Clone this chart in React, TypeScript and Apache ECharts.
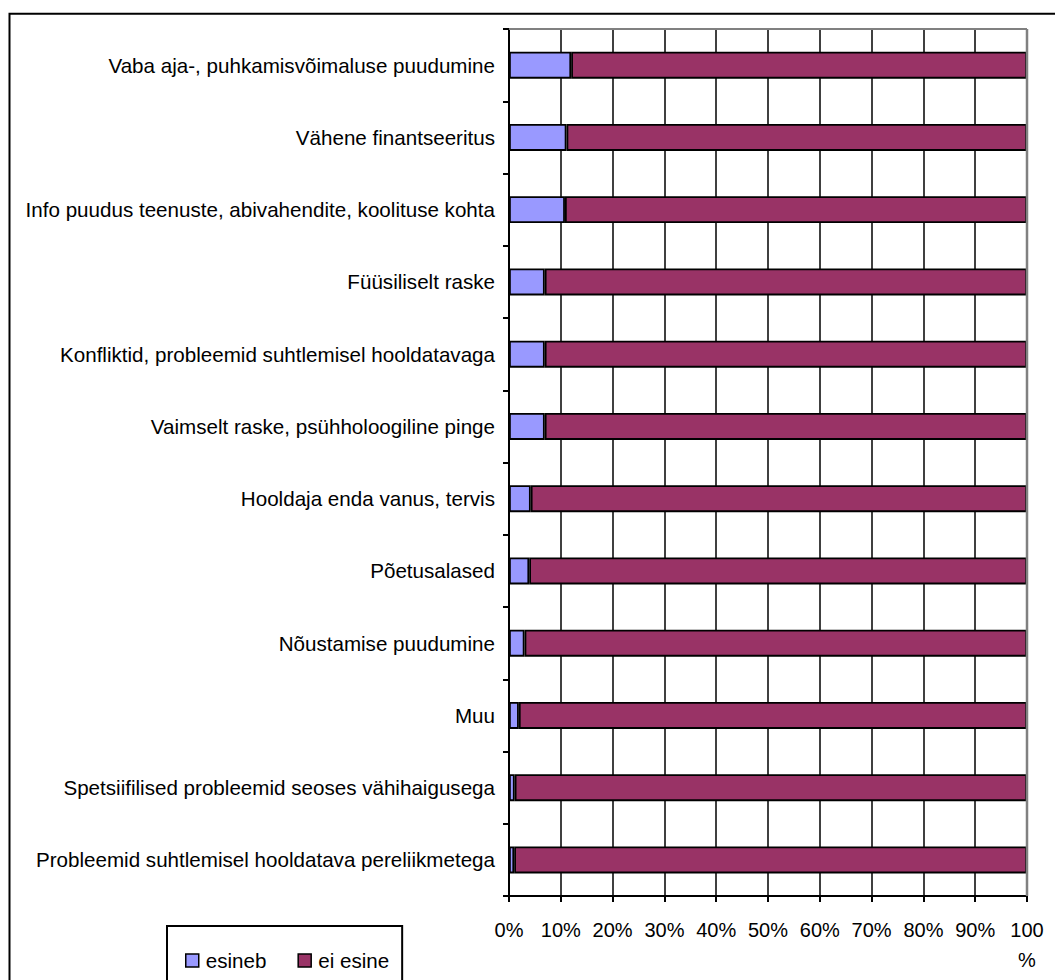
import React, { useEffect, useRef } from "react";
import * as echarts from "echarts";

const categories = [
  "Vaba aja-, puhkamisvõimaluse puudumine",
  "Vähene finantseeritus",
  "Info puudus teenuste, abivahendite, koolituse kohta",
  "Füüsiliselt raske",
  "Konfliktid, probleemid suhtlemisel hooldatavaga",
  "Vaimselt raske, psühholoogiline pinge",
  "Hooldaja enda vanus, tervis",
  "Põetusalased",
  "Nõustamise puudumine",
  "Muu",
  "Spetsiifilised probleemid seoses vähihaigusega",
  "Probleemid suhtlemisel hooldatava pereliikmetega",
];
const esineb = [12.0, 11.1, 10.8, 6.9, 6.9, 6.9, 4.2, 3.9, 3.0, 1.9, 1.1, 1.0];
const eiEsine = [88.0, 88.9, 89.2, 93.1, 93.1, 93.1, 95.8, 96.1, 97.0, 98.1, 98.9, 99.0];
const seriesNames = ["esineb", "ei esine"];

export default function App() {
  const ref = useRef<HTMLDivElement>(null);
  useEffect(() => {
    if (!ref.current) return;
    const chart = echarts.init(ref.current, null, { renderer: "svg" });
    const font = "Liberation Sans, Arial, sans-serif";
    const GL = 509, GR = 28, GT = 29, GB = 84;
    const W = 1055, H = 980;
    chart.setOption({
      animation: false,
      backgroundColor: "#fff",
      textStyle: { fontFamily: font },
      grid: { left: GL, right: GR, top: GT, bottom: GB, containLabel: false },
      legend: {
        left: 167,
        top: 926,
        padding: [24, 13, 60, 18],
        itemGap: 31,
        itemWidth: 13,
        itemHeight: 13,
        icon: "rect",
        borderColor: "#000",
        borderWidth: 2,
        data: seriesNames,
        itemStyle: { borderColor: "#000", borderWidth: 1.5 },
        textStyle: { fontSize: 20.6, color: "#000", fontFamily: font, padding: [0, 0, 0, 2] },
      },
      xAxis: {
        type: "value",
        min: 0,
        max: 100,
        interval: 10,
        axisLine: { show: true, lineStyle: { color: "#000", width: 2 } },
        axisTick: { show: true, length: 6, lineStyle: { color: "#000", width: 2 } },
        splitLine: { show: true, lineStyle: { color: "#000", width: 1.5 } },
        axisLabel: {
          fontSize: 20,
          color: "#000",
          fontFamily: font,
          margin: 19,
          lineHeight: 30,
          formatter: (v: number) => (v === 100 ? "100\n%" : v + "%"),
        },
      },
      yAxis: {
        type: "category",
        data: categories,
        inverse: true,
        axisLine: { show: true, lineStyle: { color: "#000", width: 2 } },
        axisTick: { show: true, length: 6, lineStyle: { color: "#000", width: 2 } },
        splitLine: { show: false },
        axisLabel: { fontSize: 20.6, color: "#000", fontFamily: font, margin: 14 },
      },
      series: [
        {
          name: seriesNames[0],
          type: "bar",
          stack: "s",
          data: esineb,
          barWidth: 27,
          itemStyle: { color: "#9999FF", borderColor: "#000", borderWidth: 1.8 },
        },
        {
          name: seriesNames[1],
          type: "bar",
          stack: "s",
          data: eiEsine,
          barWidth: 27,
          itemStyle: { color: "#993366", borderColor: "#000", borderWidth: 1.8 },
        },
      ],
      graphic: [
        {
          type: "line",
          z: 100,
          shape: { x1: GL, y1: GT, x2: W - GR, y2: GT },
          style: { stroke: "#808080", lineWidth: 2 },
        },
        {
          type: "line",
          z: 100,
          shape: { x1: W - GR, y1: GT, x2: W - GR, y2: H - GB },
          style: { stroke: "#808080", lineWidth: 2.5 },
        },
        {
          type: "rect",
          z: 100,
          shape: { x: 9.5, y: 13.8, width: 1200, height: 1200 },
          style: { fill: "none", stroke: "#000", lineWidth: 2 },
        },
      ],
    });
    return () => chart.dispose();
  }, []);
  return (
    <div
      ref={ref}
      style={{ position: "absolute", left: 0, top: 0, width: 1055, height: 980 }}
    />
  );
}
